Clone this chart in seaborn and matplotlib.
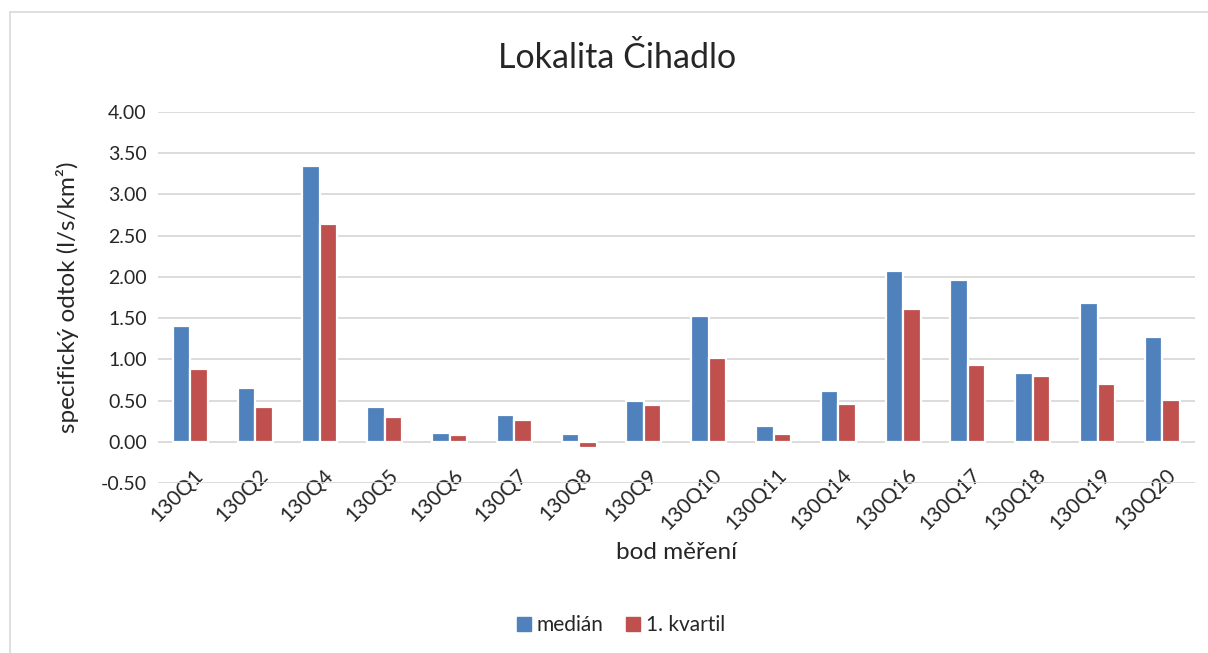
import matplotlib
matplotlib.use("Agg")
import matplotlib.pyplot as plt
import matplotlib.transforms as mtransforms
import seaborn as sns
import pandas as pd
from matplotlib.patches import Rectangle

categories = ["130Q1", "130Q2", "130Q4", "130Q5", "130Q6", "130Q7", "130Q8", "130Q9",
              "130Q10", "130Q11", "130Q14", "130Q16", "130Q17", "130Q18", "130Q19", "130Q20"]
median_vals = [1.41, 0.65, 3.35, 0.42, 0.11, 0.32, 0.10, 0.49,
               1.52, 0.19, 0.62, 2.07, 1.96, 0.84, 1.68, 1.27]
quartile_vals = [0.88, 0.42, 2.64, 0.30, 0.08, 0.26, -0.08, 0.45,
                 1.02, 0.09, 0.46, 1.61, 0.93, 0.80, 0.70, 0.51]
series_names = ["medián", "1. kvartil"]
colors = ["#4F81BD", "#C0504D"]
yticks = [-0.5, 0.0, 0.5, 1.0, 1.5, 2.0, 2.5, 3.0, 3.5, 4.0]

df = pd.DataFrame({
    "bod": categories * 2,
    "hodnota": median_vals + quartile_vals,
    "serie": [series_names[0]] * len(categories) + [series_names[1]] * len(categories),
})

sns.set_theme(style="white")
plt.rcParams["font.family"] = ["Lato", "DejaVu Sans"]

fig = plt.figure(figsize=(12.08, 6.53), dpi=100)
ax = fig.add_axes([0.1308, 0.2603, 0.989 - 0.1308, 0.8285 - 0.2603])

sns.barplot(data=df, x="bod", y="hodnota", hue="serie", palette=colors, ax=ax,
            width=0.54, edgecolor="white", linewidth=1.6, legend=False, saturation=1)

ax.set_ylim(-0.5, 4.0)
ax.set_yticks(yticks)
ax.set_yticklabels([f"{v:.2f}" for v in yticks], fontsize=14, color="#262626")
ax.yaxis.grid(True, color="#D9D9D9", linewidth=1.3)
ax.set_axisbelow(True)
for s in ax.spines.values():
    s.set_visible(False)
ax.tick_params(axis="both", length=0, pad=8)
ax.set_xlim(-0.5, len(categories) - 0.5)
ax.set_xticks(range(len(categories)))
ax.set_xticklabels(categories, rotation=45, ha="right", rotation_mode="anchor",
                   fontsize=15, color="#262626")
ax.tick_params(axis="x", pad=-13)
offset = mtransforms.ScaledTranslation(3 / 100, 0, fig.dpi_scale_trans)
for lbl in ax.get_xticklabels():
    lbl.set_transform(lbl.get_transform() + offset)

ax.set_ylabel("specifický odtok (l/s/km²)", fontsize=17.5, color="#262626", labelpad=16)
ax.set_xlabel("bod měření", fontsize=17.5, color="#262626", labelpad=6)

fig.text(0.511, 0.911, "Lokalita Čihadlo", ha="center", va="center", fontsize=24.5, color="#262626")

handles = [Rectangle((0, 0), 1, 1, color=c) for c in colors]
fig.legend(handles, series_names, loc="center", bbox_to_anchor=(0.514, 0.043), ncol=2,
           frameon=False, fontsize=15, handlelength=0.67, handleheight=0.67,
           handletextpad=0.3, columnspacing=1.05)

fig.add_artist(Rectangle((10 / 1208, -0.01), 1.05, 1 - 12 / 653 + 0.01, transform=fig.transFigure,
                         fill=False, edgecolor="#D9D9D9", linewidth=1.2))

fig.savefig("out.png", dpi=100)
